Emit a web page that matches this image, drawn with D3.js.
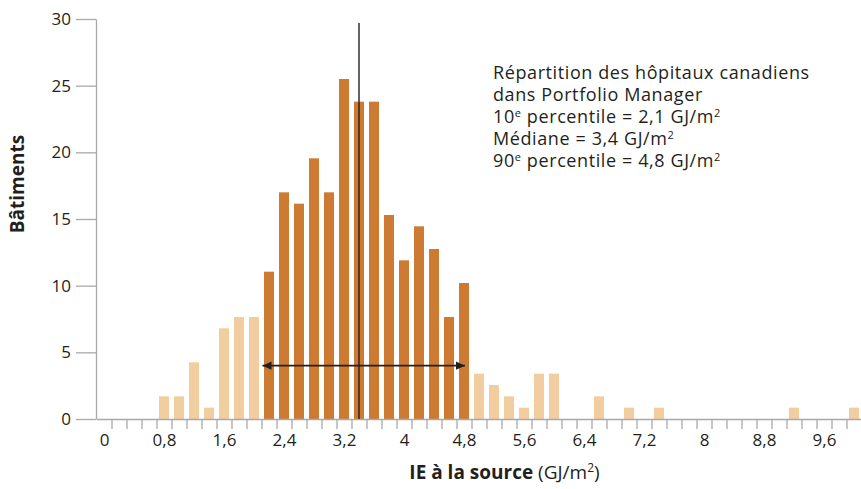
<!DOCTYPE html>
<html><head><meta charset="utf-8">
<script src="https://cdn.jsdelivr.net/npm/d3@7"></script>
<style>
html,body{margin:0;padding:0;background:#fff;}
svg text{font-family:"Open Sans",sans-serif;fill:#231F20;}
</style></head>
<body><svg id="c" width="861" height="489"></svg>
<script>
// Bins (GJ/m²)
const bins = ["0","0.2","0.4","0.6","0.8","1.0","1.2","1.4","1.6","1.8",
  "2.0","2.2","2.4","2.6","2.8","3.0","3.2","3.4","3.6","3.8",
  "4.0","4.2","4.4","4.6","4.8","5.0","5.2","5.4","5.6","5.8",
  "6.0","6.2","6.4","6.6","6.8","7.0","7.2","7.4","7.6","7.8",
  "8.0","8.2","8.4","8.6","8.8","9.0","9.2","9.4","9.6","9.8","10.0"];
const values = [0,0,0,0,1.7,1.7,4.25,0.85,6.8,7.65,
  7.65,11.05,17,16.15,19.55,17,25.5,23.8,23.8,15.3,
  11.9,14.45,12.75,7.65,10.2,3.4,2.55,1.7,0.85,3.4,
  3.4,0,0,1.7,0,0.85,0,0.85,0,0,
  0,0,0,0,0,0,0.85,0,0,0,0.85];
const xTickLabels = [0,0.8,1.6,2.4,3.2,4,4.8,5.6,6.4,7.2,8,8.8,9.6];
const yTicks = [0,5,10,15,20,25,30];
const p10 = 2.1, median = 3.4, p90 = 4.8;
const arrowLevel = 4, medianTop = 29.7;

const svg = d3.select("#c");
const mL = 96.5, mR = 861.5, mT = 19, mB = 419;
const x = d3.scaleBand().domain(bins).range([mL, mR]).paddingInner(1/3).paddingOuter(1/6);
const xl = d3.scaleLinear().domain([-0.1, 10.1]).range([mL, mR]);
const y = d3.scaleLinear().domain([0, 30]).range([mB, mT]);

const dark = "#CD7B32", light = "#F2CD9F", axisCol = "#A7A9AC";

// bars
svg.append("g").selectAll("rect").data(bins.map((b,i)=>({b, v:values[i]})).filter(d=>d.v>0))
  .join("rect")
  .attr("x", d=>x(d.b)).attr("width", x.bandwidth())
  .attr("y", d=>y(d.v)).attr("height", d=>y(0)-y(d.v))
  .attr("fill", d=>{const n=+d.b; return (n>=p10 && n<=p90+1e-9) ? dark : light;});

// y axis
const ya = svg.append("g").attr("transform", `translate(${mL-0.5},0)`)
  .call(d3.axisLeft(y).tickValues(yTicks).tickSize(20).tickSizeOuter(0).tickPadding(5));
ya.select(".domain").attr("stroke", axisCol).attr("stroke-width", 1.3);
ya.selectAll(".tick line").attr("stroke", axisCol).attr("stroke-width", 1.3);
ya.selectAll(".tick text").attr("font-size", 17).attr("font-family", "Open Sans").attr("fill", "#231F20");

// x axis minor ticks at bin boundaries
const minor = bins.slice(1).map(b => +b - 0.1);
const xa = svg.append("g").attr("transform", `translate(0,${mB})`)
  .call(d3.axisBottom(xl).tickValues(minor).tickSize(10).tickSizeOuter(0).tickFormat(""));
xa.select(".domain").attr("stroke", axisCol).attr("stroke-width", 1.3);
xa.selectAll(".tick line").attr("stroke", axisCol).attr("stroke-width", 1.3);

// x labels
const fmt = v => String(v).replace(".", ",");
const xlab = svg.append("g").attr("transform", `translate(0,${mB})`)
  .call(d3.axisBottom(xl).tickValues(xTickLabels).tickSize(0).tickPadding(15).tickFormat(fmt));
xlab.select(".domain").remove();
xlab.selectAll(".tick text").attr("font-size", 17).attr("font-family", "Open Sans").attr("fill", "#231F20");

// median line
svg.append("line").attr("x1", xl(median)).attr("x2", xl(median))
  .attr("y1", y(medianTop)).attr("y2", y(0)).attr("stroke", "#231F20").attr("stroke-width", 1.4);

// arrow
const defs = svg.append("defs");
defs.append("marker").attr("id","ae").attr("viewBox","0 0 10 10").attr("refX",10).attr("refY",5)
  .attr("markerWidth",9).attr("markerHeight",9).attr("markerUnits","userSpaceOnUse").attr("orient","auto-start-reverse")
  .append("path").attr("d","M0,0.5L10,5L0,9.5Z").attr("fill","#231F20");
svg.append("line").attr("x1", xl(p10)+1).attr("x2", xl(p90)+1)
  .attr("y1", y(arrowLevel)).attr("y2", y(arrowLevel))
  .attr("stroke", "#231F20").attr("stroke-width", 1.6)
  .attr("marker-start","url(#ae)").attr("marker-end","url(#ae)");

// annotation (one text per line)
const lines = [
  [["Répartition des hôpitaux canadiens"]],
  [["dans Portfolio Manager"]],
  [["10"],["e","sup"],[" percentile = 2,1 GJ/m"],["2","sup"]],
  [["Médiane = 3,4 GJ/m"],["2","sup"]],
  [["90"],["e","sup"],[" percentile = 4,8 GJ/m"],["2","sup"]]
];
lines.forEach((ln, i) => {
  const t = svg.append("text").attr("x", 493).attr("y", 79 + i * 22.1)
    .attr("font-family", "Lato").attr("font-size", 18).attr("letter-spacing", 0.6);
  ln.forEach(seg => {
    const s = t.append("tspan").text(seg[0]);
    if (seg[1] === "sup") s.attr("font-size", 11).attr("baseline-shift", "6");
  });
});

// axis titles
const xt = svg.append("text").attr("x", 504.5).attr("y", 479).attr("text-anchor","middle").attr("font-size", 19);
xt.append("tspan").attr("font-weight", "bold").text("IE à la source");
xt.append("tspan").text(" (GJ/m");
xt.append("tspan").attr("font-size", 12).attr("baseline-shift","7").text("2");
xt.append("tspan").text(")");

svg.append("text").attr("transform","translate(23.5,184) rotate(-90)").attr("text-anchor","middle")
  .attr("font-size", 19).attr("font-weight","bold").text("Bâtiments");
</script></body></html>
